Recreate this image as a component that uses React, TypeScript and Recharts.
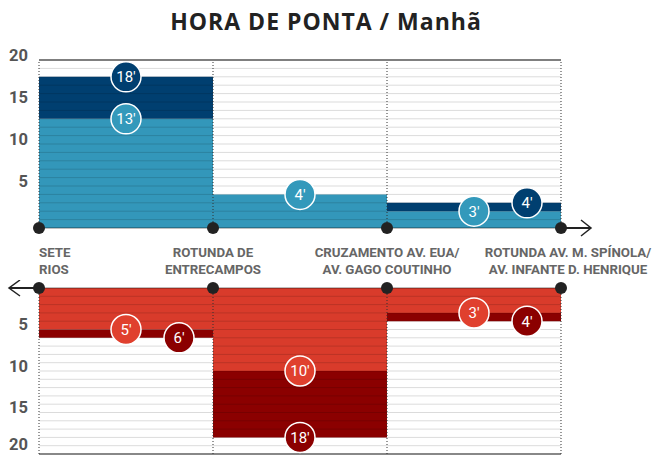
import { BarChart, Bar, XAxis, YAxis, ReferenceLine, ReferenceDot } from "recharts"

// stops along the route (two-line labels)
const stations = [
  ["SETE", "RIOS"],
  ["ROTUNDA DE", "ENTRECAMPOS"],
  ["CRUZAMENTO AV. EUA/", "AV. GAGO COUTINHO"],
  ["ROTUNDA AV. M. SPÍNOLA/", "AV. INFANTE D. HENRIQUE"],
]
const stops = [0, 1, 2, 3]
const segments = [0.5, 1.5, 2.5]

// outbound (blue): lower / upper travel time as drawn
const outMin = [13, 4, 2]
const outMax = [18, 4, 3]
const outMinLabel = ["13'", "4'", "3'"]
const outMaxLabel = ["18'", "", "4'"]

// return (red)
const backMin = [5, 10, 3]
const backMax = [6, 18, 4]
const backMinLabel = ["5'", "10'", "3'"]
const backMaxLabel = ["6'", "18'", "4'"]

const yTicks = [5, 10, 15, 20]
const gridLines = [1, 2, 3, 4, 5, 6, 7, 8, 9, 10, 11, 12, 13, 14, 15, 16, 17, 18, 19]

const FONT = "Roboto, 'Liberation Sans', sans-serif"
const W = 652
const MARGIN = { left: 0, right: 91 }

const outData = segments.map((x, i) => ({ x, min: outMin[i], extra: outMax[i] - outMin[i] }))
const backData = segments.map((x, i) => ({ x, min: backMin[i], extra: backMax[i] - backMin[i] }))

function YTick(props: any) {
  const { x, y, payload } = props
  return (
    <text x={x - 3} y={y - 5} dy="0.35em" textAnchor="end" fill="#555" fontSize={16.5} fontWeight={700} fontFamily={FONT}>
      {payload.value}
    </text>
  )
}

function StationTick(props: any) {
  const { x, y, payload } = props
  const i = payload.value as number
  const anchor = i === 0 ? "start" : "middle"
  const tx = i === 3 ? x + 7 : x
  return (
    <text x={tx} textAnchor={anchor} fill="#666" fontSize={13.3} fontWeight={700} fontFamily={FONT}>
      <tspan x={tx} y={y + 21}>{stations[i][0]}</tspan>
      <tspan x={tx} y={y + 38}>{stations[i][1]}</tspan>
    </text>
  )
}

function Bubble(props: any) {
  const { cx, cy, text, fill, dx } = props
  return (
    <g>
      <circle cx={cx + dx} cy={cy} r={15} fill={fill} stroke="#fff" strokeWidth={1.5} />
      <text x={cx + dx} y={cy} dy="0.36em" textAnchor="middle" fill="#fff" fontSize={15} fontFamily={FONT}>
        {text}
      </text>
    </g>
  )
}

function Stop(props: any) {
  const { cx, cy } = props
  return <circle cx={cx} cy={cy} r={6} fill="#222" />
}

function ArrowRight(props: any) {
  const { cx, cy } = props
  return (
    <g>
      <line x1={cx} y1={cy} x2={cx + 30} y2={cy} stroke="#222" strokeWidth={2} />
      <polyline points={`${cx + 20},${cy - 8} ${cx + 30},${cy} ${cx + 20},${cy + 8}`} fill="none" stroke="#222" strokeWidth={1.5} />
      <circle cx={cx} cy={cy} r={6} fill="#222" />
    </g>
  )
}

function ArrowLeft(props: any) {
  const { cx, cy } = props
  return (
    <g>
      <line x1={cx} y1={cy} x2={cx - 30} y2={cy} stroke="#222" strokeWidth={2} />
      <polyline points={`${cx - 19},${cy - 8} ${cx - 30},${cy} ${cx - 19},${cy + 8}`} fill="none" stroke="#222" strokeWidth={1.5} />
      <circle cx={cx} cy={cy} r={6} fill="#222" />
    </g>
  )
}

function bubbles(
  min: number[], max: number[], minLabel: string[], maxLabel: string[], light: string, dark: string
) {
  const out: any[] = []
  segments.forEach((x, i) => {
    out.push(
      <ReferenceDot key={`a${i}`} x={x} y={min[i]} r={15} ifOverflow="visible"
        shape={(p: any) => <Bubble {...p} text={minLabel[i]} fill={light} dx={0} />} />
    )
    if (maxLabel[i]) {
      const dx = max[i] - min[i] < 3 ? 53 : 0
      out.push(
        <ReferenceDot key={`b${i}`} x={x} y={max[i]} r={15} ifOverflow="visible"
          shape={(p: any) => <Bubble {...p} text={maxLabel[i]} fill={dark} dx={dx} />} />
      )
    }
  })
  return out
}

export default function App() {
  return (
    <div style={{ position: "absolute", left: 0, top: 0, width: W, height: 458, background: "#fff", fontFamily: FONT }}>
      <div style={{ position: "absolute", top: 0, left: 0, width: W, textAlign: "center", lineHeight: "43px", fontSize: 23, fontWeight: 700, letterSpacing: 1, color: "#222", fontFamily: "'Open Sans', sans-serif" }}>
        HORA DE PONTA / Manhã
      </div>

      <div style={{ position: "absolute", top: 0, left: 0 }}>
        <BarChart width={W} height={280} data={outData} margin={{ top: 60, bottom: 2, ...MARGIN }} barGap={0} barCategoryGap={0}>
          <XAxis dataKey="x" type="number" domain={[0, 3]} ticks={stops} interval={0} height={50}
            axisLine={false} tickLine={false} tick={<StationTick />} />
          <YAxis type="number" domain={[0, 20]} ticks={yTicks} width={39} axisLine={false} tickLine={false} tick={<YTick />} />
          <Bar dataKey="min" stackId="a" fill="#3397ba" isAnimationActive={false} />
          <Bar dataKey="extra" stackId="a" fill="#003f70" isAnimationActive={false} />
          {gridLines.map((v) => (
            <ReferenceLine key={v} y={v} stroke="rgba(0,0,0,0.14)" strokeWidth={1} />
          ))}
          <ReferenceLine y={20} stroke="#555" strokeWidth={1.5} />
          <ReferenceLine y={0} stroke="rgba(0,0,0,0.25)" strokeWidth={2} />
          {stops.map((s) => (
            <ReferenceLine key={`v${s}`} x={s} stroke="#333" strokeDasharray="1 2" />
          ))}
          {stops.slice(0, 3).map((s) => (
            <ReferenceDot key={`d${s}`} x={s} y={0} r={6} ifOverflow="visible" shape={<Stop />} />
          ))}
          <ReferenceDot x={3} y={0} r={6} ifOverflow="visible" shape={<ArrowRight />} />
          {bubbles(outMin, outMax, outMinLabel, outMaxLabel, "#3399bb", "#003f70")}
        </BarChart>
      </div>

      <div style={{ position: "absolute", top: 280, left: 0 }}>
        <BarChart width={W} height={178} data={backData} margin={{ top: 8, bottom: 4, ...MARGIN }} barGap={0} barCategoryGap={0}>
          <XAxis dataKey="x" type="number" domain={[0, 3]} ticks={stops} hide />
          <YAxis type="number" domain={[0, 20]} ticks={yTicks} reversed width={39} axisLine={false} tickLine={false} tick={<YTick />} />
          <Bar dataKey="min" stackId="a" fill="#d93b2b" isAnimationActive={false} />
          <Bar dataKey="extra" stackId="a" fill="#8b0000" isAnimationActive={false} />
          {gridLines.map((v) => (
            <ReferenceLine key={v} y={v} stroke="rgba(0,0,0,0.14)" strokeWidth={1} />
          ))}
          <ReferenceLine y={20} stroke="#888" strokeWidth={2} />
          <ReferenceLine y={0} stroke="rgba(0,0,0,0.25)" strokeWidth={2} />
          {stops.map((s) => (
            <ReferenceLine key={`v${s}`} x={s} stroke="#333" strokeDasharray="1 2" />
          ))}
          {stops.slice(1).map((s) => (
            <ReferenceDot key={`d${s}`} x={s} y={0} r={6} ifOverflow="visible" shape={<Stop />} />
          ))}
          <ReferenceDot x={0} y={0} r={6} ifOverflow="visible" shape={<ArrowLeft />} />
          {bubbles(backMin, backMax, backMinLabel, backMaxLabel, "#e0402e", "#8b0000")}
        </BarChart>
      </div>
    </div>
  )
}
